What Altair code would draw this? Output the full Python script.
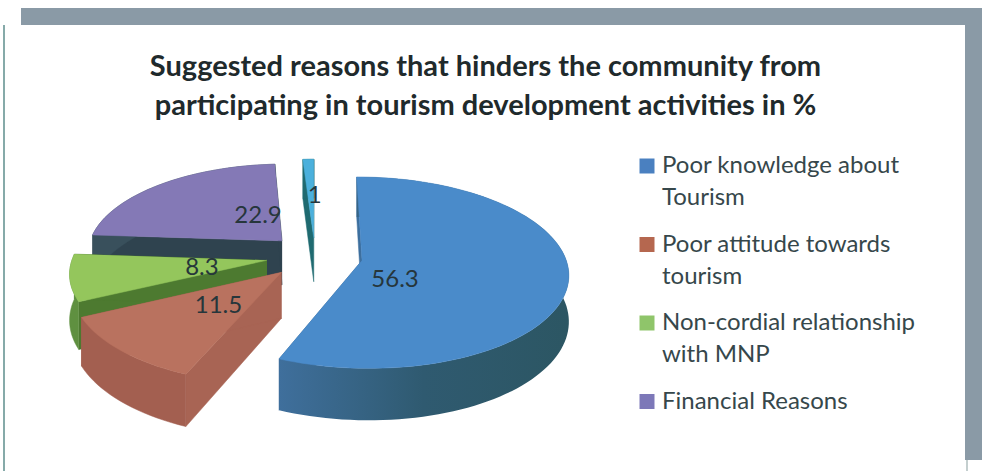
import math
import altair as alt
import pandas as pd

# Survey shares in percent, clockwise from twelve o'clock
categories = ["Poor knowledge about Tourism", "Poor attitude towards tourism",
              "Non-cordial relationship with MNP", "Financial Reasons", "Other"]
values = [56.3, 11.5, 8.3, 22.9, 1]
value_labels = ["56.3", "11.5", "8.3", "22.9", "1"]
legend_lines = [["Poor knowledge about", "Tourism"], ["Poor attitude towards", "tourism"],
                ["Non-cordial relationship", "with MNP"], ["Financial Reasons"]]
title_lines = ["Suggested reasons that hinders the community from",
               "participating in tourism development activities in %"]

top_colors = ["#4a8bca", "#b9725f", "#94c65c", "#8479b6", "#4bb0dc"]
wall_colors = ["#33607a", "#a35f50", "#5f9040", "#39505c", "#1f6a70"]
cut_colors = ["#3d6f9e", "#a86454", "#4d7a30", "#2f434f", "#1f6a70"]
legend_colors = ["#4a80c0", "#b5674f", "#8fc56a", "#7d78b8"]
explode = [0.235, 0.235, 0.24, 0.235, 0.2]
slice_radius = [1.0, 1.0, 0.955, 0.965, 1.0]
label_dx = [33, -63, -65, -24, 1]
label_dy = [20, 34, 8, -25, -42]

W, H = 982, 471
CX, CY = 315, 256
RX, RY, PERSP, DEPTH = 203, 93, 0.128, 45


def project(u, v, drop=0.0):
    """Map a point of the pie's plane to the tilted view with slight perspective."""
    k = 1 / (1 - PERSP * v)
    return CX + RX * u * k, CY + RY * v * k + drop * k


def polar(deg, r=1.0):
    a = math.radians(deg)
    return r * math.sin(a), -r * math.cos(a)


polys = []
fills = []
labels = []
pid = 0


def add_poly(points, fill):
    global pid
    polys.append([{"id": pid, "i": i, "px": p[0], "py": p[1]} for i, p in enumerate(points)])
    fills.append(fill)
    pid += 1


# The big slice's outer wall darkens towards its right end
big_wall = alt.Gradient(
    gradient="linear", x1=0, y1=0, x2=1, y2=0,
    stops=[alt.GradientStop(color="#3f6f9c", offset=0),
           alt.GradientStop(color="#2f5a70", offset=0.5),
           alt.GradientStop(color="#2c5663", offset=1)],
)

edges = [0.0]
for val in values:
    edges.append(edges[-1] + val * 3.6)

for idx in [3, 4, 2, 1, 0]:  # far slices first, near slices paint over them
    a0, a1 = edges[idx], edges[idx + 1]
    mid = (a0 + a1) / 2
    ou, ov = polar(mid, explode[idx])
    steps = max(4, int((a1 - a0) / 2))
    rim = [polar(a0 + (a1 - a0) * s / steps, slice_radius[idx]) for s in range(steps + 1)]
    rim = [(ou + u, ov + v) for u, v in rim]
    top_rim = [project(u, v) for u, v in rim]
    low_rim = [project(u, v, DEPTH) for u, v in rim]
    apex_top, apex_low = project(ou, ov), project(ou, ov, DEPTH)
    add_poly([apex_top, top_rim[0], low_rim[0], apex_low], cut_colors[idx])
    add_poly([apex_top, top_rim[-1], low_rim[-1], apex_low], cut_colors[idx])
    add_poly(top_rim + low_rim[::-1], big_wall if idx == 0 else wall_colors[idx])
    add_poly([apex_top] + top_rim, top_colors[idx])
    labels.append({"t": value_labels[idx], "px": apex_top[0] + label_dx[idx], "py": apex_top[1] + label_dy[idx]})

x_scale = alt.Scale(domain=[0, W], range=[0, W])
y_scale = alt.Scale(domain=[0, H], range=[0, H])
X = alt.X("px:Q", scale=x_scale, axis=None)
Y = alt.Y("py:Q", scale=y_scale, axis=None)

blank = alt.Data(values=[{"a": 1}])


def frame(x, x2, y, y2, color):
    return alt.Chart(blank).mark_rect(color=color).encode(
        x=alt.value(x), x2=alt.value(x2), y=alt.value(y), y2=alt.value(y2))


layers = [
    frame(21, W, 8, 26, "#8a9aa6"),
    frame(965, W, 8, 460, "#8a9aa6"),
    frame(3, 965, 25, H, "#ffffff"),
    frame(3, 5, 25, H, "#86aaa9"),
    frame(966, 968, 460, H, "#c4cfcf"),
]

for rows, fill in zip(polys, fills):
    edge = fill if isinstance(fill, str) else "#2f5a70"
    layers.append(
        alt.Chart(pd.DataFrame(rows))
        .mark_line(fill=fill, stroke=edge, strokeWidth=0.5 if isinstance(fill, str) else 0)
        .encode(x=X, y=Y, order="i:Q")
    )

layers.append(
    alt.Chart(pd.DataFrame(labels))
    .mark_text(font="Lato", fontSize=24, color="#26363b")
    .encode(x=X, y=Y, text="t:N")
)

# Title, two centred lines
title_df = pd.DataFrame({"t": title_lines, "px": [485.5, 485.5], "py": [67, 106]})
layers.append(
    alt.Chart(title_df)
    .mark_text(font="Lato", fontSize=29, fontWeight="bold", color="#1f2a2c")
    .encode(x=X, y=Y, text="t:N")
)

# Legend drawn as squares and wrapped label lines
legend_rows, text_rows = [], []
y_pos = 166
for name_lines, col in zip(legend_lines, legend_colors):
    legend_rows.append({"px": 647, "py": y_pos, "c": col})
    for j, line in enumerate(name_lines):
        text_rows.append({"px": 662, "py": y_pos + 32 * j, "t": line})
    y_pos += 78.5
layers.append(
    alt.Chart(pd.DataFrame(legend_rows))
    .mark_square(size=225, opacity=1)
    .encode(x=X, y=Y, color=alt.Color("c:N", scale=None))
)
layers.append(
    alt.Chart(pd.DataFrame(text_rows))
    .mark_text(font="Lato", fontSize=24, align="left", color="#36474b")
    .encode(x=X, y=Y, text="t:N")
)

chart = (
    alt.layer(*layers)
    .resolve_scale(color="independent")
    .properties(width=W, height=H, padding=0, background="#ffffff",
                autosize=alt.AutoSizeParams(type="none"))
    .configure_view(stroke=None)
)

chart.save("out.html", embed_options={"renderer": "svg", "actions": False})
